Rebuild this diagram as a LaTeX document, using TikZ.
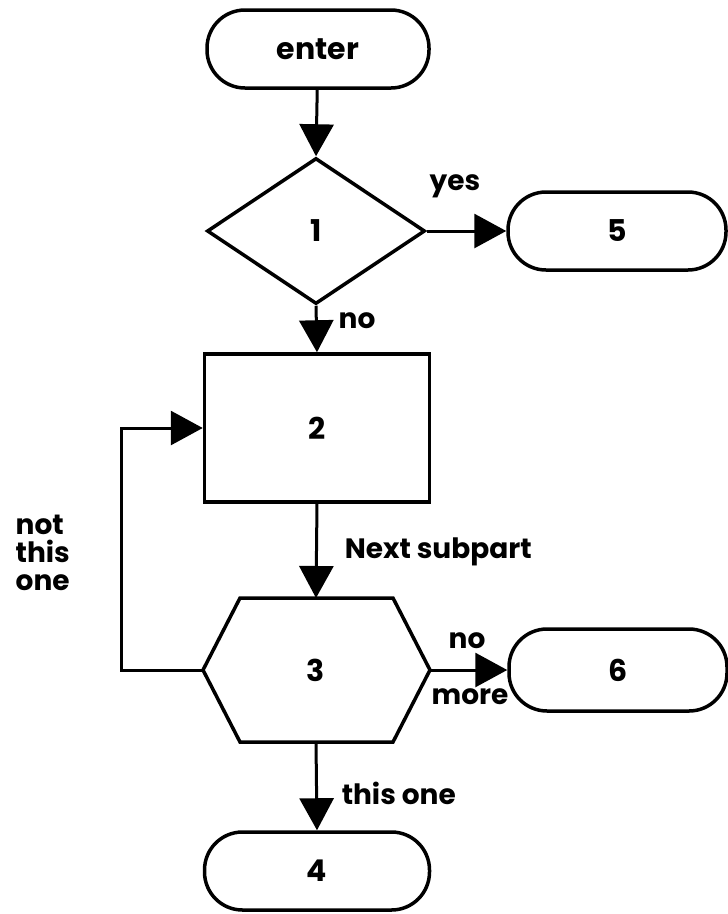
\documentclass[tikz,border=0pt]{standalone}
\usepackage{fontspec}
\setmainfont{Poppins}
\usetikzlibrary{shapes.geometric, arrows.meta}

\begin{document}
\begin{tikzpicture}[x=1pt, y=-1pt, line width=3.5pt,
  term/.style={draw, rounded corners=38pt, minimum width=222pt, minimum height=78pt, font=\bfseries\fontsize{30}{30}\selectfont},
  decide/.style={draw, diamond, minimum width=218pt, minimum height=146pt, inner sep=0pt, font=\bfseries\fontsize{30}{30}\selectfont},
  proc/.style={draw, minimum width=225pt, minimum height=148pt, font=\bfseries\fontsize{30}{30}\selectfont},
  flow/.style={line width=3pt, -{Triangle[length=32pt, width=34pt]}},
  lbl/.style={font=\bfseries\fontsize{28}{28}\selectfont, inner sep=0pt}]
  \useasboundingbox (0,0) rectangle (728,914);

  \node [term] (enter) at (318,49) {enter};
  \node [decide] (d1) at (316,231) {1};
  \node [term, minimum width=218pt] (n5) at (617,231) {5};
  \node [proc] (n2) at (317,428) {2};
  \node [font=\bfseries\fontsize{30}{30}\selectfont] (n3) at (316,670) {3};
  \node [term, minimum width=218pt, minimum height=82pt] (n6) at (618,670) {6};
  \node [term, minimum width=225pt] (n4) at (317,871) {4};

  \coordinate (h-n) at (316,598);
  \coordinate (h-s) at (316,742);
  \coordinate (h-w) at (203,670);
  \coordinate (h-e) at (430,670);
  \coordinate (loop) at (121,670);
  \draw (240,598) -- (393,598) -- (h-e) -- (393,742) -- (240,742) -- (h-w) -- cycle;

  \draw [flow] (enter) -- (d1.north);
  \draw [flow] (d1.east) -- (n5.west);
  \draw [flow] (d1.south) -- (n2.north);
  \draw [flow] (n2.south) -- (h-n);
  \draw [flow] (h-w) -- (loop) |- (n2.west);
  \draw [flow] (h-e) -- (n6.west);
  \draw [flow] (h-s) -- (n4.north);

  \node [lbl] (yes) at (455,186) {yes};
  \node [lbl] (no1) at (357,321) {no};
  \node [lbl, anchor=west] (next) at (343,552) {Next subpart};
  \node [lbl, anchor=west, align=left] (notthis) at (14,553) {not\\this\\one};
  \node [lbl] (no2) at (467,641) {no};
  \node [lbl] (more) at (470,697) {more};
  \node [lbl, anchor=west] (thisone) at (340,793) {this one};
\end{tikzpicture}
\end{document}
